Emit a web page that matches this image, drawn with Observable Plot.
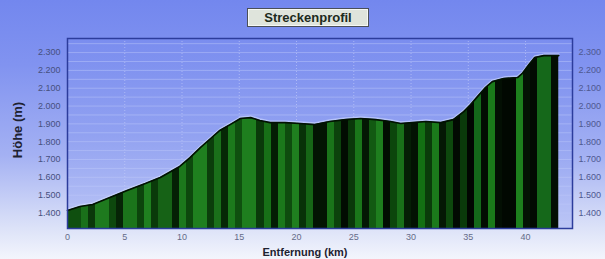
<!DOCTYPE html>
<html><head><meta charset="utf-8">
<script src="https://cdn.jsdelivr.net/npm/d3@7"></script>
<script src="https://cdn.jsdelivr.net/npm/@observablehq/plot@0.6"></script>
<style>
html,body{margin:0;padding:0;width:605px;height:259px;overflow:hidden;}
body{background:linear-gradient(#7387ee 0%, #8193f0 25%, #a4b1f3 60%, #dce2f8 88%, #f3f5fc 100%);font-family:"Liberation Sans",Arial,sans-serif;position:relative;}
#chart{position:absolute;left:0;top:0;}
.title{position:absolute;left:247px;top:8px;width:120px;height:17px;background:#dfe4dc;border:1px solid #4a4f58;box-shadow:inset 0 0 0 1px #f6f8f4;font-weight:bold;font-size:13px;line-height:17px;text-align:center;color:#1c2a1c;}
.ylab{position:absolute;left:17px;top:130px;transform:translate(-50%,-50%) rotate(-90deg);font-weight:bold;font-size:13px;color:#1e2230;white-space:nowrap;}
.xlab{position:absolute;left:305px;top:252px;transform:translate(-50%,-50%);font-weight:bold;font-size:11px;color:#1e2230;white-space:nowrap;}
</style></head><body>
<div id="chart"></div>
<div class="title">Streckenprofil</div>
<div class="ylab">Höhe (m)</div>
<div class="xlab">Entfernung (km)</div>
<script>
const distanceKm = [0, 1.1, 2.2, 3.7, 5.2, 6.8, 8.1, 9.8, 10.7, 11.6, 12.5, 13.3, 14.2, 15.1, 16.0, 16.8, 17.7, 19.0, 20.3, 21.6, 22.9, 24.3, 25.6, 26.9, 28.2, 29.1, 30.1, 31.3, 32.6, 33.7, 34.6, 35.2, 35.8, 36.5, 37.1, 38.1, 39.3, 39.7, 40.3, 40.8, 41.6, 42.9];
const elevationM = [1414, 1436, 1448, 1487, 1526, 1565, 1599, 1661, 1711, 1767, 1818, 1863, 1896, 1930, 1935, 1919, 1907, 1907, 1902, 1896, 1913, 1924, 1930, 1924, 1913, 1902, 1907, 1913, 1907, 1924, 1969, 2008, 2053, 2104, 2137, 2154, 2160, 2182, 2233, 2272, 2283, 2283];
const yTicks = [1400, 1500, 1600, 1700, 1800, 1900, 2000, 2100, 2200, 2300];
const yGrid = [1350, 1400, 1450, 1500, 1550, 1600, 1650, 1700, 1750, 1800, 1850, 1900, 1950, 2000, 2050, 2100, 2150, 2200, 2250, 2300, 2350];
const xTicks = [0, 5, 10, 15, 20, 25, 30, 35, 40];

const stripeColors = [
  "#0f4f0f","#0f4f0f","#1a701a","#0a380a","#1e7a1e","#1e7a1e","#0d480d","#062406","#1b741b","#1b741b","#0c440c","#1f801f","#0a3a0a","#166216","#166216","#052005",
  "#1c781c","#0d480d","#1f7f1f","#1f7f1f","#0b3e0b","#1a701a","#062806","#1c7a1c","#0f500f","#1e7e1e","#1e7e1e","#0a3a0a","#177017","#041c04","#1b781b","#0e4c0e",
  "#1f7f1f","#083208","#166616","#031403","#031403","#1a741a","#0c420c","#020c02","#0a380a","#1a761a","#041804","#125a12","#1e7e1e","#020e02","#0c460c","#197019",
  "#051e05","#031203","#137013","#0a3c0a","#1b7a1b","#041804","#0d480d","#020a02","#0a3a0a","#010601","#14681a","#020c02","#1a7a1a","#030f03","#010801","#010801",
  "#1d801d","#041404","#020a02","#15681a","#15681a","#030e03"
];

const de = d3.formatLocale({decimal: ",", thousands: ".", grouping: [3], currency: ["", "€"]});
const fmt = de.format(",");
const data = distanceKm.map((d, i) => ({km: d, m: elevationM[i]}));
const yBase = 1313;

const plot = Plot.plot({
  width: 605, height: 259,
  marginLeft: 67, marginRight: 33, marginTop: 38, marginBottom: 31,
  style: {background: "transparent", fontFamily: "Liberation Sans, Arial, sans-serif", fontSize: "9px", overflow: "visible"},
  x: {domain: [0, 44.1], label: null},
  y: {domain: [yBase, 2379], label: null},
  marks: [
    Plot.frame({fill: "url(#plotbg)", stroke: null}),
    Plot.ruleY(yGrid, {stroke: "#c2ccfa", strokeOpacity: 0.45}),
    Plot.ruleX(xTicks.slice(1), {stroke: "#cdd5fb", strokeOpacity: 0.55, strokeDasharray: "1,2"}),
    Plot.areaY(data, {x: "km", y1: yBase, y2: "m", fill: "url(#stripes)"}),
    Plot.lineY(data, {x: "km", y: "m", stroke: "#d2dcff", strokeOpacity: 0.6, strokeWidth: 1.5, dy: -1.5}),
    Plot.lineY(data, {x: "km", y: "m", stroke: "#021202", strokeWidth: 1.6}),
    Plot.axisY({ticks: yTicks, tickFormat: fmt, tickSize: 0, tickPadding: 7, anchor: "left", color: "#46507e", label: null}),
    Plot.axisY({ticks: yTicks, tickFormat: fmt, tickSize: 0, tickPadding: 6, anchor: "right", color: "#4e5890", label: null}),
    Plot.axisX({ticks: xTicks, tickSize: 0, tickPadding: 5, color: "#656b88", label: null}),
    Plot.frame({stroke: "#2c3c9c", strokeWidth: 1.5})
  ]
});

const xs = plot.scale("x");
const defs = d3.select(plot).insert("defs", ":first-child");
const lg = defs.append("linearGradient").attr("id", "stripes")
  .attr("gradientUnits", "userSpaceOnUse")
  .attr("x1", xs.apply(distanceKm[0])).attr("x2", xs.apply(distanceKm[distanceKm.length - 1]))
  .attr("y1", 0).attr("y2", 0);
const n = stripeColors.length;
stripeColors.forEach((c, i) => {
  lg.append("stop").attr("offset", i / n).attr("stop-color", c);
  lg.append("stop").attr("offset", (i + 1) / n).attr("stop-color", c);
});
const bg = defs.append("linearGradient").attr("id", "plotbg").attr("x1", 0).attr("x2", 0).attr("y1", 0).attr("y2", 1);
bg.append("stop").attr("offset", 0).attr("stop-color", "#7a8def");
bg.append("stop").attr("offset", 0.5).attr("stop-color", "#91a1f1");
bg.append("stop").attr("offset", 1).attr("stop-color", "#bcc6f6");

document.getElementById("chart").appendChild(plot);
</script>
</body></html>
